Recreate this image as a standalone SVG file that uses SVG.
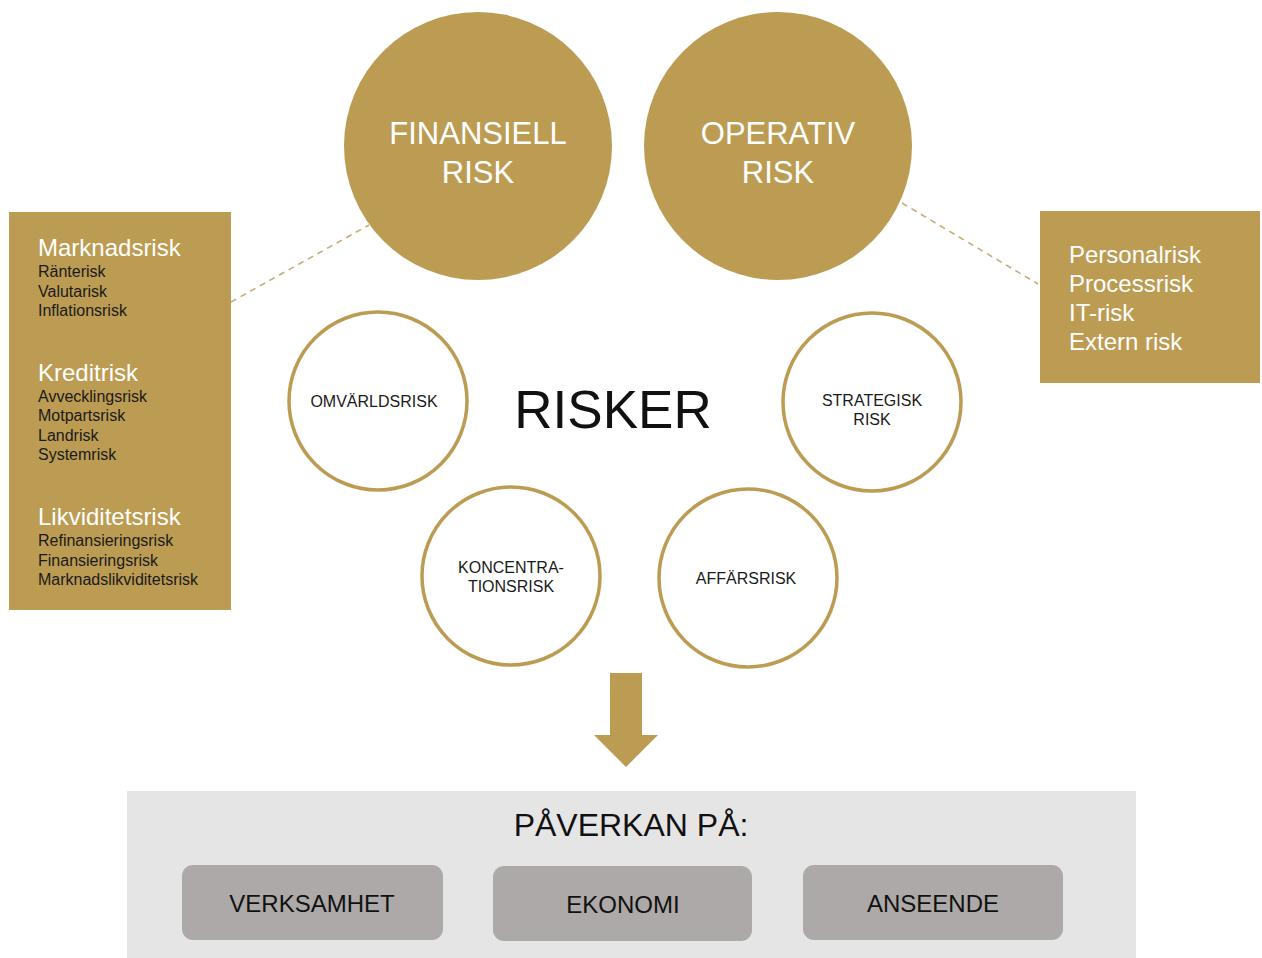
<svg xmlns="http://www.w3.org/2000/svg" width="1262" height="958" viewBox="0 0 1262 958">
<style>
text{font-family:"Liberation Sans",Arial,sans-serif}
.gold{fill:#BC9C52}
.ring{fill:#fff;stroke:#BC9C52;stroke-width:3.5}
.big{fill:#fff;font-size:31px;text-anchor:middle}
.head{fill:#fff;font-size:24px}
.sub{fill:#1a1a1a;font-size:16px}
.small{fill:#1a1a1a;font-size:16px;text-anchor:middle}
.btn{fill:#ADA9A8}
.btxt{fill:#111;font-size:24px;text-anchor:middle}
.dash{stroke:#C4AD78;stroke-width:1.6;stroke-dasharray:6 5;fill:none}
</style>
<rect width="1262" height="958" fill="#fff"/>
<g id="connectors">
<line class="dash" x1="231" y1="302" x2="369" y2="225"/>
<line class="dash" x1="902" y1="203" x2="1038" y2="284"/>
<polygon class="gold" points="610,673 642,673 642,735 658,735 626,767 594,735 610,735"/>
</g>
<g id="finansiell">
<circle class="gold" cx="478" cy="146" r="134"/>
<text class="big" x="478" y="144">FINANSIELL</text>
<text class="big" x="478" y="183">RISK</text>
</g>
<g id="operativ">
<circle class="gold" cx="778" cy="146" r="134"/>
<text class="big" x="778" y="144">OPERATIV</text>
<text class="big" x="778" y="183">RISK</text>
</g>
<g id="finansiell-list">
<rect class="gold" x="9" y="212" width="222" height="398"/>
<text class="head" x="38" y="256">Marknadsrisk</text>
<text class="sub" x="38" y="277">Ränterisk</text>
<text class="sub" x="38" y="297">Valutarisk</text>
<text class="sub" x="38" y="316">Inflationsrisk</text>
<text class="head" x="38" y="381">Kreditrisk</text>
<text class="sub" x="38" y="402">Avvecklingsrisk</text>
<text class="sub" x="38" y="421">Motpartsrisk</text>
<text class="sub" x="38" y="441">Landrisk</text>
<text class="sub" x="38" y="460">Systemrisk</text>
<text class="head" x="38" y="525">Likviditetsrisk</text>
<text class="sub" x="38" y="546">Refinansieringsrisk</text>
<text class="sub" x="38" y="566">Finansieringsrisk</text>
<text class="sub" x="38" y="585">Marknadslikviditetsrisk</text>
</g>
<g id="operativ-list">
<rect class="gold" x="1040" y="211" width="220" height="172"/>
<text class="head" x="1069" y="263">Personalrisk</text>
<text class="head" x="1069" y="292">Processrisk</text>
<text class="head" x="1069" y="321">IT-risk</text>
<text class="head" x="1069" y="350">Extern risk</text>
</g>
<g id="risker">
<text x="613" y="428" font-size="53" text-anchor="middle" fill="#111">RISKER</text>
</g>
<g id="omvarldsrisk">
<circle class="ring" cx="378" cy="401" r="89"/>
<text class="small" x="374" y="407">OMVÄRLDSRISK</text>
</g>
<g id="strategisk">
<circle class="ring" cx="872" cy="402" r="89"/>
<text class="small" x="872" y="406">STRATEGISK</text>
<text class="small" x="872" y="425">RISK</text>
</g>
<g id="koncentrationsrisk">
<circle class="ring" cx="511" cy="576" r="89"/>
<text class="small" x="511" y="573">KONCENTRA-</text>
<text class="small" x="511" y="592">TIONSRISK</text>
</g>
<g id="affarsrisk">
<circle class="ring" cx="748" cy="578" r="89"/>
<text class="small" x="746" y="584">AFFÄRSRISK</text>
</g>
<g id="paverkan">
<rect x="127" y="791" width="1009" height="167" fill="#E6E5E6"/>
<text x="631" y="836" font-size="32" text-anchor="middle" fill="#111">PÅVERKAN PÅ:</text>
</g>
<g id="verksamhet">
<rect class="btn" x="182" y="865" width="261" height="75" rx="11"/>
<text class="btxt" x="312" y="912">VERKSAMHET</text>
</g>
<g id="ekonomi">
<rect class="btn" x="493" y="866" width="259" height="75" rx="11"/>
<text class="btxt" x="623" y="913">EKONOMI</text>
</g>
<g id="anseende">
<rect class="btn" x="803" y="865" width="260" height="75" rx="11"/>
<text class="btxt" x="933" y="912">ANSEENDE</text>
</g>
</svg>
